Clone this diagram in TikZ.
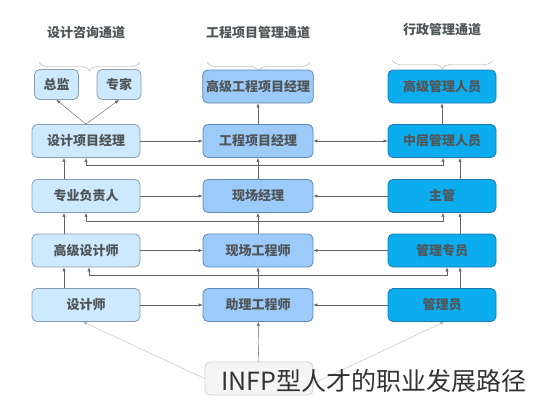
\documentclass[tikz,border=0pt]{standalone}
\usepackage{fontspec}
\setmainfont{Noto Sans CJK SC}
\usetikzlibrary{arrows.meta, decorations.pathreplacing, calc}
\definecolor{designfill}{HTML}{CDE9FD}
\definecolor{designline}{HTML}{8A9DB2}
\definecolor{engfill}{HTML}{9CCBFA}
\definecolor{engline}{HTML}{5F86B4}
\definecolor{adminfill}{HTML}{0BADEE}
\definecolor{adminline}{HTML}{1E78B0}
\definecolor{textgray}{HTML}{505558}
\definecolor{linkgray}{HTML}{606468}

\begin{document}
\begin{tikzpicture}[x=1pt, y=-1pt,
            box/.style={rectangle, rounded corners=5pt, thick, minimum width=108pt, minimum height=33pt, align=center, font=\bfseries\fontsize{13}{15}\selectfont, text=textgray},
            design/.style={box, draw=designline, fill=designfill},
            small/.style={design, minimum width=44pt, minimum height=30pt},
            eng/.style={box, draw=engline, fill=engfill, minimum width=110pt},
            admin/.style={box, draw=adminline, fill=adminfill},
            header/.style={font=\bfseries\fontsize{13}{15}\selectfont, text=textgray},
            bracestyle/.style={draw=gray!70, decorate, decoration={brace, amplitude=9pt}},
            link/.style={draw=linkgray, -{Latex[length=4pt, width=3.2pt]}},
            twoway/.style={draw=linkgray, {Latex[length=4pt, width=3.2pt]}-{Latex[length=4pt, width=3.2pt]}},
            faint/.style={draw=gray!55, -{Latex[length=4pt, width=3.2pt]}}
        ]
            \fill[white] (0,0) rectangle (533,400);
            \useasboundingbox (0,0) rectangle (533,400);

% Channel headers
            \node[header] (design_head) at (86,33) {设计咨询通道};
            \node[header] (eng_head) at (258,33) {工程项目管理通道};
            \node[header] (admin_head) at (442,30) {行政管理通道};
            \draw[bracestyle] (140,62) -- (39,62);
            \draw[bracestyle] (310,62) -- (207,62);
            \draw[bracestyle] (493,60) -- (392,60);

% Design consultation channel
            \node[small] (director) at (56.5,84.5) {总监};
            \node[small] (expert) at (119,84.5) {专家};
            \node[design] (design_pm) at (86,141) {设计项目经理};
            \node[design] (discipline_lead) at (86,196) {专业负责人};
            \node[design] (senior_designer) at (86,250.5) {高级设计师};
            \node[design] (designer) at (86,305) {设计师};

% Engineering project management channel
            \node[eng] (senior_eng_pm) at (258,86.5) {高级工程项目经理};
            \node[eng] (eng_pm) at (258,141) {工程项目经理};
            \node[eng] (site_mgr) at (258,196) {现场经理};
            \node[eng] (site_eng) at (258,250.5) {现场工程师};
            \node[eng] (asst_eng) at (258,305) {助理工程师};

% Administrative management channel
            \node[admin] (senior_admin) at (442,86.5) {高级管理人员};
            \node[admin] (middle_admin) at (442,141) {中层管理人员};
            \node[admin] (supervisor) at (442,196) {主管};
            \node[admin] (admin_officer) at (442,250.5) {管理专员};
            \node[admin] (administrator) at (442,305) {管理员};

% Entry
            \node[box, draw=gray!35, fill=gray!8, minimum width=108pt] (entry) at (259,378.5) {};

% Vertical promotions
            \draw[link] (design_pm.north) -- (director.south);
            \draw[link] (design_pm.north) -- (expert.south);
            \draw[link] ([xshift=-22pt]discipline_lead.north) -- ([xshift=-22pt]design_pm.south);
            \draw[link] ([xshift=-22pt]senior_designer.north) -- ([xshift=-22pt]discipline_lead.south);
            \draw[link] ([xshift=-22pt]designer.north) -- ([xshift=-22pt]senior_designer.south);
            \draw[link] (eng_pm) -- (senior_eng_pm);
            \draw[link] (site_mgr) -- (eng_pm);
            \draw[link] (site_eng) -- (site_mgr);
            \draw[link] (asst_eng) -- (site_eng);
            \draw[link] (entry) -- (asst_eng);
            \draw[link] (middle_admin) -- (senior_admin);
            \draw[link] ([xshift=18pt]supervisor.north) -- ([xshift=18pt]middle_admin.south);
            \draw[link] ([xshift=18pt]admin_officer.north) -- ([xshift=18pt]supervisor.south);
            \draw[link] ([xshift=18pt]administrator.north) -- ([xshift=18pt]admin_officer.south);

% Cross-channel moves
            \draw[link] (design_pm) -- (eng_pm);
            \draw[link] (discipline_lead) -- (site_mgr);
            \draw[link] (senior_designer) -- (site_eng);
            \draw[link] (designer) -- (asst_eng);
            \draw[twoway] (middle_admin) -- (eng_pm);
            \draw[link] (supervisor) -- (site_mgr);
            \draw[link] (admin_officer) -- (site_eng);
            \draw[link] (administrator) -- (asst_eng);
            \draw[twoway] (design_pm.south) -- ++(0,7) -| ([xshift=1pt]middle_admin.south);
            \draw[twoway] (discipline_lead.south) -- ++(0,8) -| ([xshift=1pt]supervisor.south);
            \draw[twoway] ([xshift=3pt]senior_designer.south) -- ++(0,8) -| ([xshift=5pt]admin_officer.south);

% Entry links
            \draw[faint] (entry.west) -- ([xshift=-3pt]designer.south);
            \draw[faint] ([yshift=-5pt]entry.east) -- ([xshift=2pt]administrator.south);

% Caption
            \node[anchor=west, font=\fontsize{25}{28}\selectfont, text=black!80, inner sep=0pt] (caption) at (221,381) {INFP型人才的职业发展路径};

        \end{tikzpicture}
\end{document}
